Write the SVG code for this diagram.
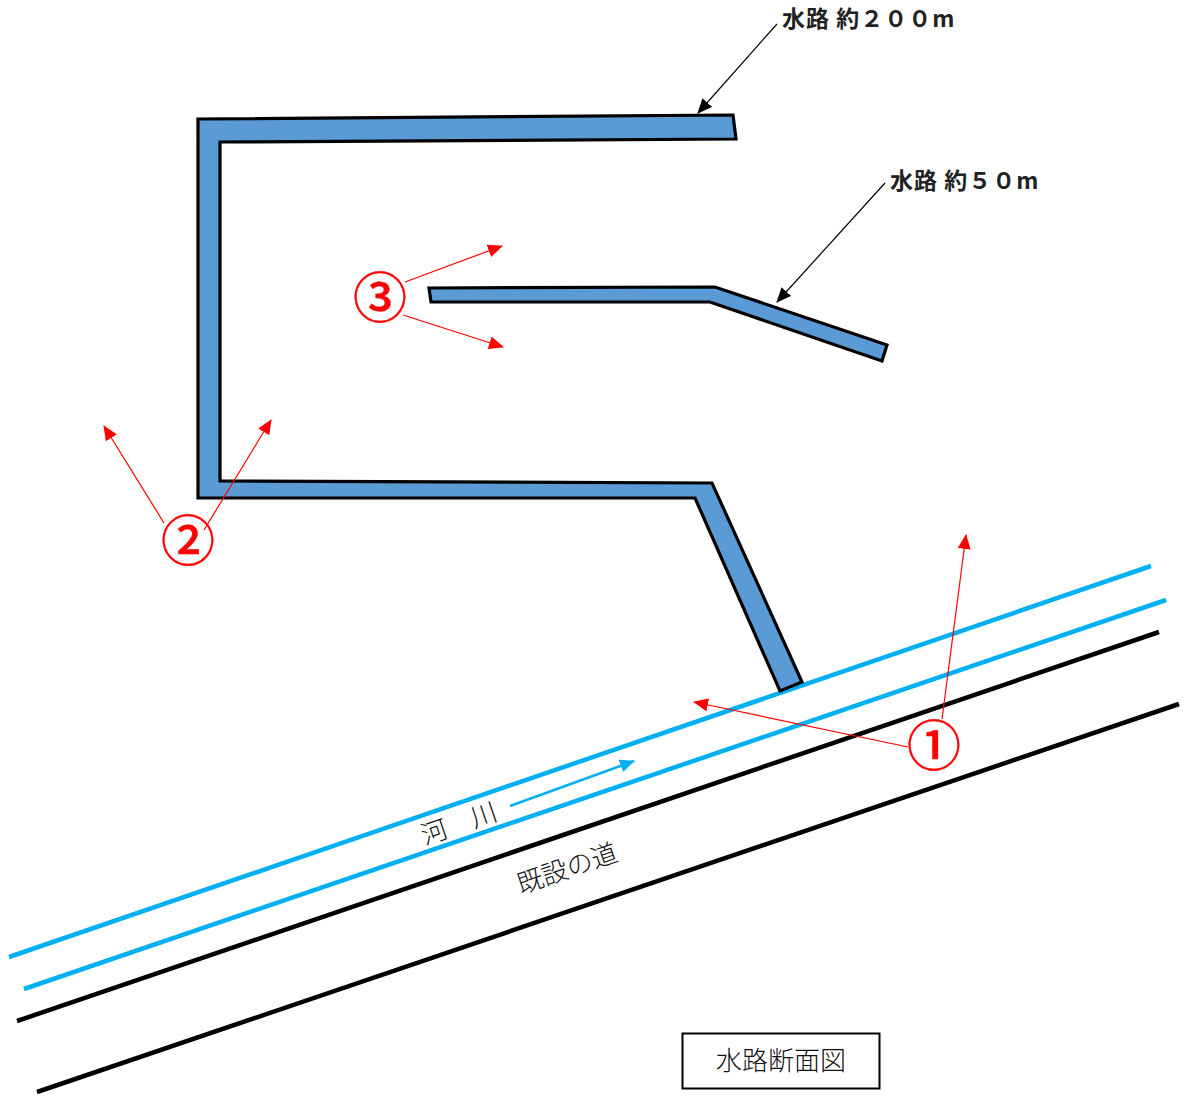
<svg xmlns="http://www.w3.org/2000/svg" width="1188" height="1100" viewBox="0 0 1188 1100">
<style>
.ch{fill:#5b9bd5;stroke:#000;stroke-width:3.2;stroke-linejoin:miter}
.riv{fill:none;stroke:#00b0f0;stroke-width:4.5}
.road{fill:none;stroke:#000;stroke-width:4.5}
.red{fill:none;stroke:#f00;stroke-width:1.2}
.blk{fill:none;stroke:#000;stroke-width:1.2}
text{font-family:"Noto Sans CJK JP","Liberation Sans",sans-serif}
.lab{font-size:23px;font-weight:700;fill:#222;letter-spacing:1px}
.num{font-size:54px;fill:#f00;text-anchor:middle;font-weight:500;stroke:#f00;stroke-width:.4px}
.t{font-size:26px;fill:#111;font-weight:300}
</style>
<defs>
<marker id="ar" markerUnits="userSpaceOnUse" markerWidth="15" markerHeight="13" refX="14" refY="6.500" orient="auto"><path d="M0 0L15 6.500L0 13Z" fill="#f00"/></marker>
<marker id="ak" markerUnits="userSpaceOnUse" markerWidth="15" markerHeight="13" refX="14" refY="6.500" orient="auto"><path d="M0 0L15 6.500L0 13Z" fill="#000"/></marker>
<marker id="ab" markerUnits="userSpaceOnUse" markerWidth="15" markerHeight="13" refX="14" refY="6.500" orient="auto"><path d="M0 0L15 6.500L0 13Z" fill="#00b0f0"/></marker>
</defs>
<g id="lines">
<path class="riv" d="M9 957L1151 566"/>
<path class="riv" d="M24 989L1166 600"/>
<path class="road" d="M17 1021L1159 632"/>
<path class="road" d="M37 1092L1179 704"/>
</g>
<g id="channel-200"><path class="ch" d="M198 119L733 115L736 139L220 142L220 481L712 483L802 682L780 691L695 498L198 498Z"/></g>
<g id="channel-50"><path class="ch" d="M429 288L715 287L887 345L882 361L710 302L431 302Z"/></g>
<g id="connectors">
<path class="blk" marker-end="url(#ak)" d="M777 24L698 113"/>
<path class="blk" marker-end="url(#ak)" d="M885 183L777 302"/>
<path class="red" marker-end="url(#ar)" d="M405 282L502 246"/>
<path class="red" marker-end="url(#ar)" d="M403 315L503 347"/>
<path class="red" marker-end="url(#ar)" d="M164 523L104 426"/>
<path class="red" marker-end="url(#ar)" d="M204 530L271 420"/>
<path class="red" marker-end="url(#ar)" d="M942 719L966 535"/>
<path class="red" marker-end="url(#ar)" d="M908 747L694 702"/>
<path d="M510 806L634 761" fill="none" stroke="#00b0f0" stroke-width="2.5" marker-end="url(#ab)"/>
</g>
<g id="label-200"><text class="lab" x="782" y="27">水路 約２００m</text></g>
<g id="label-50"><text class="lab" x="890" y="189">水路 約５０m</text></g>
<g id="n1"><text class="num" x="934" y="766">①</text></g>
<g id="n2"><text class="num" x="188" y="561">②</text></g>
<g id="n3"><text class="num" x="380" y="318">③</text></g>
<g id="river"><text class="t" transform="translate(425 845) rotate(-19)">河　川</text></g>
<g id="road"><text class="t" transform="translate(521 894) rotate(-19)">既設の道</text></g>
<g id="title"><rect x="682.500" y="1033.500" width="197" height="55" fill="#fff" stroke="#000" stroke-width="2"/><text class="t" x="781" y="1070" text-anchor="middle">水路断面図</text></g>
</svg>
